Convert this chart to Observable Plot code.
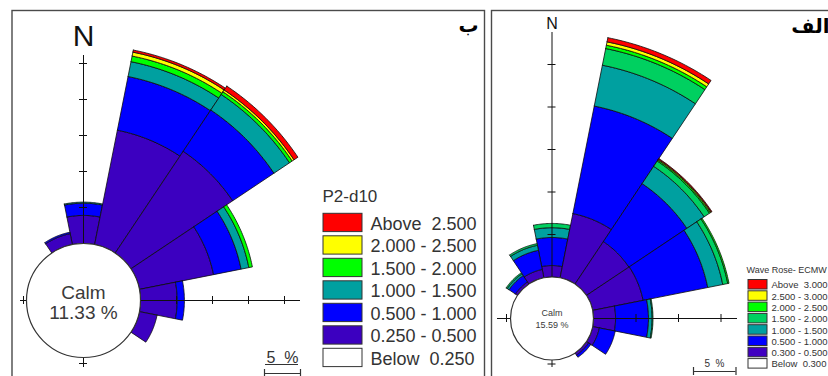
<!DOCTYPE html>
<html><head><meta charset="utf-8">
<script src="https://cdn.jsdelivr.net/npm/d3@7"></script>
<script src="https://cdn.jsdelivr.net/npm/@observablehq/plot@0.6"></script>
<style>
html,body{margin:0;padding:0;background:#fff;}
#wrap{position:relative;width:828px;height:376px;overflow:hidden;background:#fff;}
#wrap > svg{position:absolute;top:0;}
#wrap text{white-space:pre;}
</style></head><body><div id="wrap"></div>
<script>
// ---------- DATA ----------
const directions = ["N","NNE","NE","ENE","E","ESE","SE","SSE","S","SSW","SW","WSW","W","WNW","NW","NNW"];

// Left rose (ب) : P2-d10
const leftTitle = "P2-d10";
const leftCalm = "11.33 %";
const leftBands = ["Below  0.250","0.250 - 0.500","0.500 - 1.000","1.000 - 1.500","1.500 - 2.000","2.000 - 2.500","Above  2.500"];
const leftColors = ["#ffffff","#3c00c0","#0000ff","#00a0a0","#00ff00","#ffff00","#ff0000"];
// frequency (%) per direction, one array per wave-height band (inner to outer)
const left_025_050 = [3.9,16.2,17.0,10.5,5.1,2.5,0,0,0,0,0,0,0,0,0,1.55];
const left_050_100 = [1.7,7.6,6.9,3.9,1.0,0,0,0,0,0,0,0,0,0,0,0.2];
const left_100_150 = [0.15,2.1,2.6,1.1,0,0,0,0,0,0,0,0,0,0,0,0];
const left_150_200 = [0,0.8,0.45,0.5,0,0,0,0,0,0,0,0,0,0,0,0];
const left_200_250 = [0,0.55,0.3,0,0,0,0,0,0,0,0,0,0,0,0,0];
const left_above_250 = [0,0.3,0.65,0,0,0,0,0,0,0,0,0,0,0,0,0];

// Right rose (الف) : Wave Rose- ECMW(F)
const rightTitle = "Wave Rose- ECMW";
const rightCalm = "15.59 %";
const rightBands = ["Below  0.300","0.300 - 0.500","0.500 - 1.000","1.000 - 1.500","1.500 - 2.000","2.000 - 2.500","2.500 - 3.000","Above  3.000"];
const rightColors = ["#ffffff","#4000c0","#0000ff","#00a0a0","#00d060","#00ff00","#ffff00","#ff0000"];
const right_030_050 = [1.35,7.7,6.0,6.05,2.6,0.8,0.3,0,0,0,0,0,0,0,0.3,1.0];
const right_050_100 = [3.3,12.9,8.2,7.75,3.87,1.9,0.3,0,0,0,0,0,0,0,0.9,2.3];
const right_100_150 = [1.15,4.9,2.45,1.8,0.43,0,0,0,0,0,0,0,0,0,0.25,0.6];
const right_150_200 = [0.5,2.0,0.75,0.6,0.1,0,0,0,0,0,0,0,0,0,0.15,0.2];
const right_200_250 = [0,0.4,0.15,0.15,0,0,0,0,0,0,0,0,0,0,0,0];
const right_250_300 = [0,0.4,0.1,0,0,0,0,0,0,0,0,0,0,0,0,0];
const right_above_300 = [0,0.5,0.1,0,0,0,0,0,0,0,0,0,0,0,0,0];

const scaleLabel = "5  %";

// ---------- BUILD ----------
function sectorPolys(series, names, c0) {
  const out = [];
  directions.forEach((dir, d) => {
    let cum = 0;
    series.forEach((arr, b) => {
      const v = arr[d];
      if (!(v > 0)) return;
      const r1 = c0 + cum, r2 = c0 + cum + v;
      cum += v;
      const id = dir + "-" + b;
      const a0 = d * 22.5 - 11.25, a1 = d * 22.5 + 11.25, n = 30;
      const pts = [];
      for (let i = 0; i <= n; i++) pts.push([a0 + (a1 - a0) * i / n, r2]);
      for (let i = n; i >= 0; i--) pts.push([a0 + (a1 - a0) * i / n, r1]);
      pts.push(pts[0]);
      for (const [a, r] of pts) {
        const t = a * Math.PI / 180;
        out.push({id, band: names[b], x: r * Math.sin(t), y: r * Math.cos(t)});
      }
    });
  });
  return out;
}

function panel(cfg) {
  const {left, width, height, cx, cy, R0, k} = cfg;
  const X = px => (px - cx) / k;
  const Y = py => (cy - py) / k;
  const c0 = R0 / k;
  const polys = sectorPolys(cfg.series, cfg.bands.slice(1), c0);
  const tk = cfg.tick / k;
  const upTicks = d3.range(1, cfg.upN + 1).map(i => c0 + 5 * i);
  const rtTicks = d3.range(1, cfg.rtN + 1).map(i => c0 + 5 * i);
  const legendRows = cfg.bands.slice().reverse().map((b, i) => ({band: b, top: cfg.lg.top + cfg.lg.pitch * i}));
  const L = cfg.lg;
  const sb = cfg.sb;
  const ff = "Liberation Sans, Arial, sans-serif";
  return Plot.plot({
    width, height,
    marginLeft: cfg.frameL - left, marginTop: cfg.frameT, marginRight: left + width - cfg.frameR, marginBottom: 0,
    x: {domain: [X(left), X(left + width)], range: [0, width], axis: null},
    y: {domain: [Y(height), Y(0)], range: [height, 0], axis: null},
    color: {domain: cfg.bands, range: cfg.colors},
    style: {fontFamily: ff, background: "transparent", overflow: "visible"},
    marks: [
      Plot.frame({stroke: "#4a4a4a", strokeWidth: 1.4}),
      Plot.line(polys, {x: "x", y: "y", z: "id", fill: "band", stroke: "#0d0d0d", strokeWidth: 0.8, strokeLinejoin: "miter"}),
      // axes
      Plot.ruleX([0], {x: d => d, y1: Y(cfg.axB), y2: Y(cfg.axT), stroke: "#111", strokeWidth: 1}),
      Plot.ruleY([0], {y: d => d, x1: X(cfg.axL), x2: X(cfg.axR), stroke: "#111", strokeWidth: 1}),
      Plot.ruleY(upTicks, {y: d => d, x1: -tk, x2: tk, stroke: "#111", strokeWidth: 1}),
      Plot.ruleX(rtTicks, {x: d => d, y1: -tk, y2: tk, stroke: "#111", strokeWidth: 1}),
      Plot.ruleY([-(c0 + cfg.edgeTick / k)], {y: d => d, x1: -tk, x2: tk, stroke: "#111", strokeWidth: 1}),
      Plot.ruleX([-(c0 + cfg.edgeTickL / k)], {x: d => d, y1: -tk, y2: tk, stroke: "#111", strokeWidth: 1}),
      // calm circle
      Plot.dot([{x: 0, y: 0}], {x: "x", y: "y", r: R0, fill: "white", stroke: "#333", strokeWidth: 1.2}),
      Plot.text([cfg.calmWord], {x: 0, y: Y(cfg.calmY1), text: d => d, fontSize: cfg.calmFs, textAnchor: "middle", lineAnchor: "bottom", fill: "#3a3a3a"}),
      Plot.text([cfg.calm], {x: 0, y: Y(cfg.calmY2), text: d => d, fontSize: cfg.calmFs, textAnchor: "middle", lineAnchor: "bottom", fill: "#3a3a3a"}),
      // north label
      Plot.text(["N"], {x: 0, y: Y(cfg.nY), text: d => d, fontSize: cfg.nFs, textAnchor: "middle", lineAnchor: "bottom", fill: "#111"}),
      // legend
      Plot.text([cfg.title], {x: X(L.titleX), y: Y(L.titleY), text: d => d, fontSize: L.titleFs, textAnchor: "start", lineAnchor: "bottom", fill: "#333"}),
      Plot.rect(legendRows, {x1: X(L.x1), x2: X(L.x2), y1: d => Y(d.top), y2: d => Y(d.top + L.h), fill: "band", stroke: "#333", strokeWidth: 1}),
      Plot.text(legendRows, {x: X(L.tx), y: d => Y(d.top + L.base), text: "band", fontSize: L.fs, textAnchor: "start", lineAnchor: "bottom", fill: "#333"}),
      // scale bar
      Plot.text([scaleLabel], {x: X(sb.tx), y: Y(sb.ty), text: d => d, fontSize: sb.fs, textAnchor: "middle", lineAnchor: "bottom", fill: "#333"}),
      Plot.ruleY([Y(sb.uy)], {y: d => d, x1: X(sb.ux1), x2: X(sb.ux2), stroke: "#333", strokeWidth: 1}),
      Plot.ruleY([Y(sb.by)], {y: d => d, x1: X(sb.bx1), x2: X(sb.bx1 + 5 * k), stroke: "#333", strokeWidth: 1.2}),
      Plot.ruleX([X(sb.bx1), X(sb.bx1 + 5 * k)], {x: d => d, y1: Y(sb.by - 4), y2: Y(sb.by + 4), stroke: "#333", strokeWidth: 1.2}),
      // panel label
      Plot.text([cfg.tag], {x: X(cfg.tagX), y: Y(cfg.tagY), text: d => d, fontSize: cfg.tagFs, fontWeight: "bold", fontFamily: "DejaVu Sans, sans-serif", textAnchor: cfg.tagAnchor, lineAnchor: "bottom", fill: "#000"})
    ]
  });
}

const wrap = document.getElementById("wrap");

const leftSvg = panel({
  left: 0, width: 488, height: 392, cx: 83, cy: 300, R0: 57, k: 7.2,
  frameL: 11.5, frameT: 10, frameR: 484,
  series: [left_025_050, left_050_100, left_100_150, left_150_200, left_200_250, left_above_250],
  bands: leftBands, colors: leftColors,
  tick: 4, upN: 5, rtN: 4, edgeTick: 6, edgeTickL: 3,
  axT: 55, axB: 367, axL: 20, axR: 300,
  calmWord: "Calm", calm: leftCalm, calmFs: 19, calmY1: 298, calmY2: 318,
  nY: 45, nFs: 30,
  title: leftTitle,
  lg: {titleX: 322, titleY: 201, titleFs: 17, top: 213.3, pitch: 22.5, x1: 323, x2: 362, h: 18.3, tx: 370, base: 16, fs: 18},
  sb: {tx: 282, ty: 362, fs: 16, uy: 364, ux1: 265, ux2: 298, by: 373, bx1: 264},
  tag: "ب", tagX: 468, tagY: 31, tagFs: 20, tagAnchor: "middle"
});

const rightSvg = panel({
  left: 488, width: 360, height: 392, cx: 551.5, cy: 318, R0: 41.5, k: 8.5,
  frameL: 491, frameT: 10, frameR: 848,
  series: [right_030_050, right_050_100, right_100_150, right_150_200, right_200_250, right_250_300, right_above_300],
  bands: rightBands, colors: rightColors,
  tick: 4, upN: 5, rtN: 3, edgeTick: 4, edgeTickL: 4,
  axT: 32, axB: 367, axL: 497, axR: 737,
  calmWord: "Calm", calm: rightCalm, calmFs: 9, calmY1: 315, calmY2: 327,
  nY: 28, nFs: 16,
  title: rightTitle,
  lg: {titleX: 746, titleY: 272, titleFs: 9, top: 279.5, pitch: 11.3, x1: 748, x2: 767, h: 9.5, tx: 771, base: 8.3, fs: 9.5},
  sb: {tx: 714, ty: 366, fs: 10, uy: -100, ux1: 0, ux2: 0, by: 371, bx1: 693},
  tag: "الف", tagX: 829, tagY: 32, tagFs: 20, tagAnchor: "end"
});
leftSvg.style.left = "0px";
rightSvg.style.left = "488px";
wrap.appendChild(leftSvg);
wrap.appendChild(rightSvg);
</script></body></html>
